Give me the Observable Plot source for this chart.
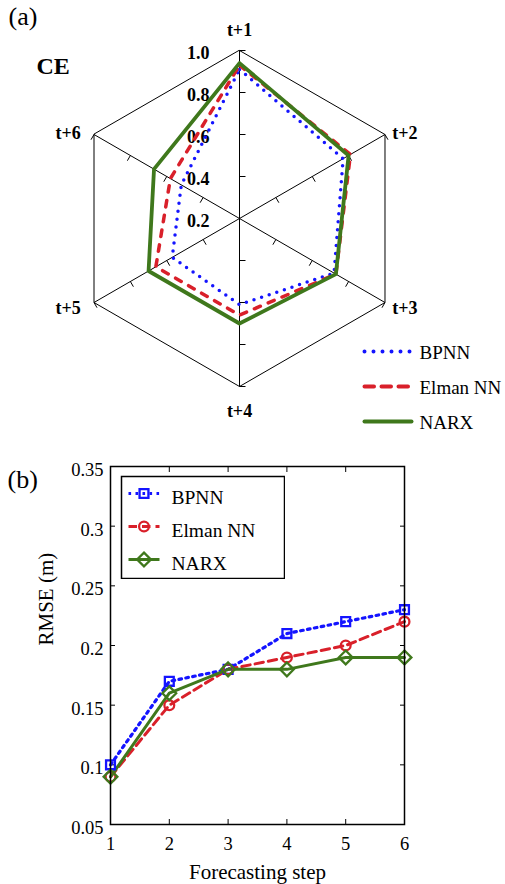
<!DOCTYPE html>
<html><head><meta charset="utf-8">
<script src="https://cdn.jsdelivr.net/npm/d3@7"></script>
<script src="https://cdn.jsdelivr.net/npm/@observablehq/plot@0.6"></script>
<style>
body{margin:0;background:#fff;}
#wrap{position:relative;width:505px;height:884px;overflow:hidden;background:#fff;}
#wrap svg{position:absolute;}
</style></head><body><div id="wrap"></div>
<script>
// ---------- data ----------
const models = ["BPNN", "Elman NN", "NARX"];
const colors = ["#1414ff", "#d9202a", "#3f781c"];
const horizons = ["t+1", "t+2", "t+3", "t+4", "t+5", "t+6"];
const ceBPNN  = [0.91, 0.77, 0.72, 0.61, 0.57, 0.52];
const ceElman = [0.93, 0.81, 0.73, 0.66, 0.66, 0.58];
const ceNARX  = [0.94, 0.80, 0.73, 0.70, 0.70, 0.67];
const ceTicks = [0.2, 0.4, 0.6, 0.8, 1.0];
const ceTickLabels = ["0.2", "0.4", "0.6", "0.8", "1.0"];
const steps = [1, 2, 3, 4, 5, 6];
const rmseBPNN  = [0.10, 0.17, 0.18, 0.21, 0.22, 0.23];
const rmseElman = [0.09, 0.15, 0.18, 0.19, 0.20, 0.22];
const rmseNARX  = [0.09, 0.16, 0.18, 0.18, 0.19, 0.19];
const rmseTicks = [0.05, 0.1, 0.15, 0.2, 0.25, 0.3, 0.35];
const rmseTickLabels = ["0.05", "0.1", "0.15", "0.2", "0.25", "0.3", "0.35"];

const ceSeries = [ceBPNN, ceElman, ceNARX];
const rmseSeries = [rmseBPNN, rmseElman, rmseNARX];

const FONT = "Liberation Serif";
const wrap = document.getElementById("wrap");
function place(el, left, top) { el.style.left = left + "px"; el.style.top = top + "px"; wrap.appendChild(el); }

// ---------- radar (a) ----------
const U = d3.scaleLinear().domain([0.2, 1.0]).range([0, 1]);
const ang = i => Math.PI / 2 - i * Math.PI / 3;
const pt = (i, v) => ({x: U(v) * Math.cos(ang(i)), y: U(v) * Math.sin(ang(i))});

const hexPts = horizons.map((h, i) => pt(i, 1.0));
const spokes = horizons.map((h, i) => ({x1: 0, y1: 0, x2: pt(i, 1.0).x, y2: pt(i, 1.0).y}));
const TL = 6 / 168;
const tickSegs = [];
horizons.forEach((h, i) => {
  const c = Math.cos(ang(i)), s = Math.sin(ang(i));
  const px = i < 3 ? s : -s, py = i < 3 ? -c : c;
  ceTicks.slice(1).forEach(v => {
    const p = pt(i, v);
    tickSegs.push({x1: p.x, y1: p.y, x2: p.x + TL * px, y2: p.y + TL * py});
  });
});
const vLabels = horizons.map((h, i) => ({label: h, i, ...pt(i, 1.0)}));
const radarStyles = [
  {strokeWidth: 3.5, strokeDasharray: "0 8", strokeLinecap: "round"},
  {strokeWidth: 3.5, strokeDasharray: "6.5 8.5", strokeLinecap: "round"},
  {strokeWidth: 3.8, strokeLinecap: "round"}
];
const bold = {fontWeight: "bold", fontSize: 18, fill: "black"};
const vText = (filter, opts) => Plot.text(vLabels.filter(filter), {x: "x", y: "y", text: "label", lineAnchor: "middle", ...bold, ...opts});

const radar = Plot.plot({
  width: 505, height: 445, margin: 0,
  x: {domain: [-1, 1], range: [71, 407], axis: null},
  y: {domain: [-1, 1], range: [386, 50], axis: null},
  style: {fontFamily: FONT, background: "white"},
  marks: [
    Plot.line(hexPts, {x: "x", y: "y", curve: "linear-closed", stroke: "black", strokeWidth: 1}),
    Plot.link(spokes, {x1: "x1", y1: "y1", x2: "x2", y2: "y2", stroke: "black", strokeWidth: 1}),
    Plot.link(tickSegs, {x1: "x1", y1: "y1", x2: "x2", y2: "y2", stroke: "black", strokeWidth: 1}),
    Plot.text(ceTicks, {x: () => 0, y: d => U(d), text: (d, i) => ceTickLabels[i], textAnchor: "end", dx: -30, dy: 3, lineAnchor: "middle", ...bold}),
    ...ceSeries.map((vals, k) => Plot.line(vals.map((v, i) => pt(i, v)), {x: "x", y: "y", curve: "linear-closed", stroke: colors[k], ...radarStyles[k]})),
    vText(d => d.i === 0, {dy: -20}),
    vText(d => d.i === 3, {dy: 25}),
    vText(d => d.i === 1, {dx: 20, dy: -1}),
    vText(d => d.i === 2, {dx: 20, dy: 6}),
    vText(d => d.i === 5, {dx: -26, dy: -1}),
    vText(d => d.i === 4, {dx: -26, dy: 6}),
    Plot.text(["CE"], {frameAnchor: "top-left", text: d => d, dx: 36, dy: 73, textAnchor: "start", lineAnchor: "bottom", fontWeight: "bold", fontSize: 24}),
    Plot.text(["(a)"], {frameAnchor: "top-left", text: d => d, dx: 8, dy: 24, textAnchor: "start", lineAnchor: "bottom", fontSize: 26})
  ]
});
place(radar, 0, 0);

// radar legend
const radarLegStyles = [
  {strokeWidth: 4, strokeDasharray: "0 9", strokeLinecap: "round"},
  {strokeWidth: 4, strokeDasharray: "9.5 7.5", strokeLinecap: "round"},
  {strokeWidth: 4, strokeLinecap: "round"}
];
const radarLeg = Plot.plot({
  width: 150, height: 100, margin: 0,
  x: {domain: [0, 1], range: [9, 56], axis: null},
  y: {type: "point", domain: models, range: [15, 86], padding: 0, axis: null},
  style: {fontFamily: FONT},
  marks: [
    ...models.map((m, k) => Plot.link([m], {x1: () => 0, x2: () => 1, y1: d => d, y2: d => d, stroke: colors[k], ...radarLegStyles[k]})),
    Plot.text(models, {x: () => 1, y: d => d, text: d => d, textAnchor: "start", dx: 8, dy: 1.5, lineAnchor: "middle", fontSize: 19, fill: "black"})
  ]
});
place(radarLeg, 355, 335);

// ---------- line chart (b) ----------
const lineStyles = [
  {strokeWidth: 3.2, strokeDasharray: "2.6 4.4"},
  {strokeWidth: 3, strokeDasharray: "8.5 5"},
  {strokeWidth: 3}
];
const symbols = ["square", "circle", "diamond2"];
const symR = [5, 4.9, 6.2];
const rows = rmseSeries.map((vals, k) => steps.map((s, i) => ({step: s, rmse: vals[i], model: models[k]})));
const noLabel = () => "";

const lineChart = Plot.plot({
  width: 505, height: 439, marginTop: 21, marginBottom: 60, marginLeft: 110, marginRight: 101,
  x: {domain: [1, 6]},
  y: {domain: [0.05, 0.35]},
  style: {fontFamily: FONT, background: "white"},
  marks: [
    Plot.axisY(rmseTicks, {anchor: "left", tickSize: -5, tickFormat: noLabel, label: null}),
    Plot.axisY(rmseTicks, {anchor: "right", tickSize: -5, tickFormat: noLabel, label: null}),
    Plot.axisX(steps, {anchor: "bottom", tickSize: -5, tickFormat: noLabel, label: null}),
    Plot.axisX(steps, {anchor: "top", tickSize: -5, tickFormat: noLabel, label: null}),
    Plot.text(rmseTicks, {y: d => d, frameAnchor: "left", text: (d, i) => rmseTickLabels[i], textAnchor: "end", lineAnchor: "middle", dx: -7, dy: 3.5, fontSize: 18.5, fill: "black"}),
    Plot.text(steps, {x: d => d, frameAnchor: "bottom", text: d => String(d), lineAnchor: "top", dy: 12.5, fontSize: 18.5, fill: "black"}),
    ...rows.map((r, k) => Plot.line(r, {x: "step", y: "rmse", stroke: colors[k], ...lineStyles[k]})),
    ...rows.map((r, k) => Plot.dot(r, {x: "step", y: "rmse", symbol: symbols[k], r: symR[k], stroke: colors[k], strokeWidth: 2.3, fill: "none"})),
    Plot.frame({stroke: "black", strokeWidth: 1.5}),
    Plot.text(["RMSE (m)"], {frameAnchor: "left", text: d => d, rotate: -90, dx: -64, lineAnchor: "middle", fontSize: 21}),
    Plot.text(["Forecasting step"], {frameAnchor: "bottom", text: d => d, dy: 54, lineAnchor: "bottom", fontSize: 21}),
    Plot.text(["(b)"], {frameAnchor: "top-left", text: d => d, dx: -103, dy: 21, textAnchor: "start", lineAnchor: "bottom", fontSize: 26})
  ]
});
place(lineChart, 0, 445);

// line chart legend
const lineLeg = Plot.plot({
  width: 165, height: 104, margin: 0,
  x: {domain: [0, 1], range: [8, 39], axis: null},
  y: {type: "point", domain: models, range: [18, 84], padding: 0, axis: null},
  style: {fontFamily: FONT},
  marks: [
    Plot.frame({stroke: "black", strokeWidth: 1.5, fill: "white", inset: 1}),
    ...models.map((m, k) => Plot.link([m], {x1: () => 0, x2: () => 1, y1: d => d, y2: d => d, stroke: colors[k], ...lineStyles[k]})),
    ...models.map((m, k) => Plot.dot([m], {x: () => 0.5, y: d => d, symbol: symbols[k], r: symR[k], stroke: colors[k], strokeWidth: 2.3, fill: "none"})),
    Plot.text(models, {x: () => 1, y: d => d, text: d => d, textAnchor: "start", dx: 12, dy: 4, lineAnchor: "middle", fontSize: 19.5, fill: "black"})
  ]
});
place(lineLeg, 120, 475);
</script></body></html>
